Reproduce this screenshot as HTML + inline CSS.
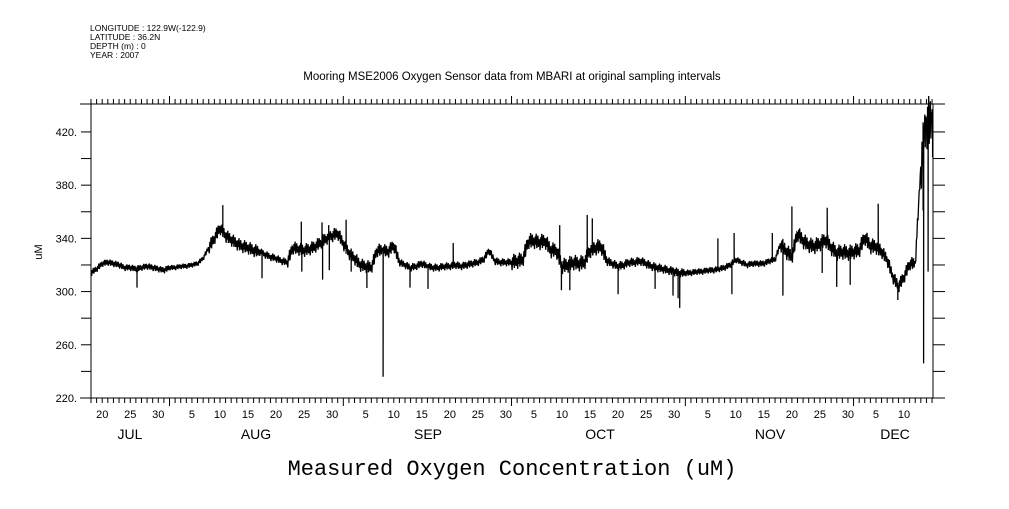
<!DOCTYPE html>
<html><head><meta charset="utf-8"><style>
body{margin:0;background:#fff;}
svg text{font-family:"Liberation Sans",sans-serif;fill:#000;}
</style></head><body>
<svg id="chart" width="1009" height="504" viewBox="0 0 1009 504" xmlns="http://www.w3.org/2000/svg">
<g font-size="8.5">
<text x="90" y="31">LONGITUDE : 122.9W(-122.9)</text>
<text x="90" y="40">LATITUDE : 36.2N</text>
<text x="90" y="49">DEPTH (m) : 0</text>
<text x="90" y="58">YEAR : 2007</text>
</g>
<text x="512" y="80" font-size="11.5" text-anchor="middle">Mooring MSE2006 Oxygen Sensor data from MBARI at original sampling intervals</text>
<text x="0" y="0" font-size="11" text-anchor="middle" transform="translate(42,252) rotate(-90)">uM</text>
<text x="512" y="475" font-size="22" text-anchor="middle" style="font-family:'Liberation Mono','DejaVu Sans Mono',monospace">Measured Oxygen Concentration (uM)</text>
<g id="axes"></g>
<g id="series"></g>
</svg>
<script>
// day 0 = Jul 18, 2007
const jul = [314,317,321,322,321,320,318,318,317,318,319,318,317,316];
const aug = [318,318,319,319,320,321,325,333,340,348,342,339,336,334,333,331,330,328,326,325,323,322,333,332,331,332,334,337,340,342,344];
const sep = [336,329,325,320,319,318,331,331,330,335,322,320,318,319,321,319,318,318,319,319,320,319,320,321,322,324,331,323,322,322];
const oct = [322,323,324,338,338,337,338,331,331,319,320,322,321,322,331,333,334,323,321,319,320,322,322,323,321,319,318,317,316,315,314];
const nov = [314,314,315,315,316,316,317,318,320,324,322,320,321,321,321,323,324,336,330,326,344,338,335,334,336,339,333,329,330,329];
const dec = [330,331,341,334,334,330,324,311,304,311,321,321,394,427];
// daily variability range (uM)
const julRange = [5,5,5,5,5,5,5,5,5,5,5,5,5,5];
const augRange = [4,4,4,4,4,4,4,10,10,10,10,10,10,10,10,10,6,6,6,6,6,10,10,10,10,10,10,10,10,10,10];
const sepRange = [10,10,10,10,10,10,10,10,10,10,6,6,6,6,6,6,6,6,6,6,6,6,6,6,6,6,6,6,6,6];
const octRange = [12,12,12,12,12,12,12,12,12,12,12,12,12,12,12,12,12,7,7,7,7,7,7,7,7,7,7,7,7,7,7];
const novRange = [5,5,5,5,5,5,5,5,5,5,5,5,5,5,5,5,5,12,12,12,12,12,12,12,12,12,12,12,12,12];
const decRange = [12,12,12,12,12,10,10,10,10,10,10,10,40,40];
const spikeDays = [8.2,23.5,30.5,37.5,37.6,41.2,41.3,42.4,42.5,45.5,46.4,49.2,52.1,56.9,60.1,64.6,83.6,83.9,85.4,88.5,89.4,94,100.6,103.8,104.7,105,111.8,114.3,114.7,121.5,123.4,125,130.4,131.3,133,135.4,140.4,143.9,148.4,148.5,148.8,149.3,150,150.1];
const spikeVals = [303,365,310,352.6,315,352,309,350,316,354,315,302.7,236,303,302,336.5,350,301,301,357.6,355,298,302,297,295,287.7,340,298,344,344,297,364,314,363,303.5,305,366,293.7,361,246,421.5,315,437,401];
const yTicks = [220,240,260,280,300,320,340,360,380,400,420];
const yLabels = [220,260,300,340,380,420];
const months = ["JUL","AUG","SEP","OCT","NOV","DEC"];
const monthStartDays = [-17,14,45,75,106,136];
const monthLens = [31,31,30,31,30,31];

const base = jul.concat(aug,sep,oct,nov,dec);
const range = julRange.concat(augRange,sepRange,octRange,novRange,decRange);
const X0=91, X1=933, Y0=104, Y1=398, PXD=5.607;
const xs = d => X0 + d*PXD;
const ys = v => Y1 - (v-220)*(Y1-Y0)/(441-220);
const NS="http://www.w3.org/2000/svg";
const axes=document.getElementById('axes'), ser=document.getElementById('series');
function mk(tag,attrs,parent){const e=document.createElementNS(NS,tag);for(const k in attrs)e.setAttribute(k,attrs[k]);parent.appendChild(e);return e;}
function ln(x1,y1,x2,y2,p){return mk('line',{x1,y1,x2,y2,stroke:'#000','stroke-width':1},p);}
let e;
e=ln(80,Y0,945,Y0,axes);  
e=ln(80,Y1,945,Y1,axes);  
e=ln(X0,Y0,X0,Y1,axes);  
e=ln(X1,Y0,X1,Y1,axes);  
yTicks.forEach(v=>{const y=ys(v);ln(81,y,X0,y,axes);ln(X1,y,945,y,axes);});
yLabels.forEach(v=>{const t=mk('text',{x:77,y:ys(v)+4,'font-size':11,'text-anchor':'end'},axes);t.textContent=v+'.';
 });
for(let m=0;m<6;m++){
  for(let dd=1;dd<=monthLens[m];dd++){
    const d=monthStartDays[m]+dd-1; const x=xs(d);
    if(x<X0-0.5||x>X1+0.5) continue;
    const major=dd===1;
    ln(x,Y0,x,Y0-(major?8:5),axes); ln(x,Y1,x,Y1+(major?8:5),axes);
    if(dd%5===0 && x<X1-4){const t=mk('text',{x:x,y:418,'font-size':11,'text-anchor':'middle'},axes);t.textContent=dd;
       }
  }
}
const mX=[130,256,428,600,770,895];
months.forEach((m,i)=>{const t=mk('text',{x:mX[i],y:439,'font-size':14,'text-anchor':'middle'},axes);t.textContent=m;
 });
function baseAt(d){const i=Math.max(0,Math.min(base.length-1,Math.floor(d)));const j=Math.min(base.length-1,i+1);const f=Math.max(0,Math.min(1,d-i));return base[i]*(1-f)+base[j]*f;}
const pts=[];
const zig=[0,-0.5,0.3,-0.2,0.5,-0.4,0.1,0.4,-0.3,0.2];
for(let i=0;i<base.length;i++){
  for(let k=0;k<zig.length;k++){const d=i+k/zig.length;pts.push([d,baseAt(d)+zig[k]*range[i]]);}
}
spikeDays.forEach((d,k)=>{pts.push([d-0.01,baseAt(d)]);pts.push([d,spikeVals[k]]);pts.push([d+0.01,baseAt(d)]);});
pts.sort((a,b)=>a[0]-b[0]);
let dstr='';pts.forEach((p,i)=>{dstr+=(i?'L':'M')+xs(p[0]).toFixed(1)+' '+ys(p[1]).toFixed(1);});
const path=mk('path',{d:dstr,fill:'none',stroke:'#000','stroke-width':1.3,'stroke-linejoin':'miter'},ser);


</script>
</body></html>
